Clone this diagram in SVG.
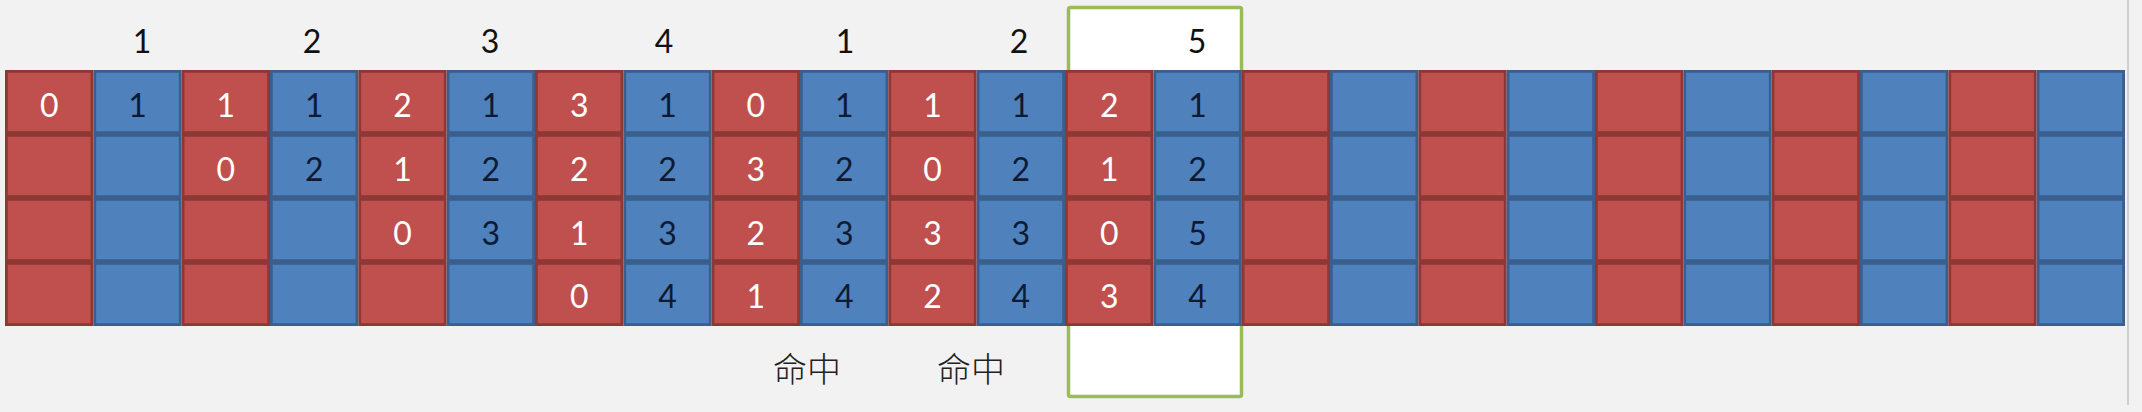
<svg xmlns="http://www.w3.org/2000/svg" xmlns:xlink="http://www.w3.org/1999/xlink" width="2142" height="412" viewBox="0 0 2142 412">
<style>
.r{fill:#C0504D;stroke:#8E3835;stroke-width:2.8}
.b{fill:#4F81BD;stroke:#3A5F8D;stroke-width:2.8}
.t{font-family:Lato,"Liberation Sans",sans-serif;font-size:32px;text-anchor:middle}
.w{fill:#ffffff}
.k{fill:#0d1a33}
.top{font-family:Lato,"Liberation Sans",sans-serif;font-size:32px;text-anchor:middle;fill:#111}
.cn{font-family:"Noto Sans CJK SC",sans-serif;font-size:34px;font-weight:300;text-anchor:middle;fill:#222}
</style>
<defs>
<g id="redcol">
<rect class="r" x="1.4" y="1.4" width="85.53" height="61.2"/>
<rect class="r" x="1.4" y="65.4" width="85.53" height="61.2"/>
<rect class="r" x="1.4" y="129.4" width="85.53" height="61.2"/>
<rect class="r" x="1.4" y="193.4" width="85.53" height="61.2"/>
</g>
<g id="bluecol">
<rect class="b" x="1.4" y="1.4" width="85.53" height="61.2"/>
<rect class="b" x="1.4" y="65.4" width="85.53" height="61.2"/>
<rect class="b" x="1.4" y="129.4" width="85.53" height="61.2"/>
<rect class="b" x="1.4" y="193.4" width="85.53" height="61.2"/>
</g>
</defs>
<rect width="2142" height="412" fill="#F2F2F2"/>
<line x1="2128" y1="0" x2="2128" y2="405" stroke="#cfcfcf" stroke-width="2"/>
<g id="window">
<rect x="1068.5" y="7.5" width="173" height="389" fill="#ffffff" stroke="#9BBB59" stroke-width="3.5" rx="2"/>
</g>
<g id="labels-top">
<text class="top" x="142" y="53">1</text>
<text class="top" x="312" y="53">2</text>
<text class="top" x="490" y="53">3</text>
<text class="top" x="664" y="53">4</text>
<text class="top" x="845" y="53">1</text>
<text class="top" x="1019" y="53">2</text>
<text class="top" x="1197" y="53">5</text>
</g>
<g id="col0" transform="translate(5,70)"><use xlink:href="#redcol"/><text class="t w" x="44.17" y="47">0</text></g>
<g id="col1" transform="translate(93.33,70)"><use xlink:href="#bluecol"/><text class="t k" x="44.17" y="47">1</text></g>
<g id="col2" transform="translate(181.67,70)"><use xlink:href="#redcol"/><text class="t w" x="44.17" y="47">1</text><text class="t w" x="44.17" y="111">0</text></g>
<g id="col3" transform="translate(270,70)"><use xlink:href="#bluecol"/><text class="t k" x="44.17" y="47">1</text><text class="t k" x="44.17" y="111">2</text></g>
<g id="col4" transform="translate(358.33,70)"><use xlink:href="#redcol"/><text class="t w" x="44.17" y="47">2</text><text class="t w" x="44.17" y="111">1</text><text class="t w" x="44.17" y="175">0</text></g>
<g id="col5" transform="translate(446.67,70)"><use xlink:href="#bluecol"/><text class="t k" x="44.17" y="47">1</text><text class="t k" x="44.17" y="111">2</text><text class="t k" x="44.17" y="175">3</text></g>
<g id="col6" transform="translate(535,70)"><use xlink:href="#redcol"/><text class="t w" x="44.17" y="47">3</text><text class="t w" x="44.17" y="111">2</text><text class="t w" x="44.17" y="175">1</text><text class="t w" x="44.17" y="238">0</text></g>
<g id="col7" transform="translate(623.33,70)"><use xlink:href="#bluecol"/><text class="t k" x="44.17" y="47">1</text><text class="t k" x="44.17" y="111">2</text><text class="t k" x="44.17" y="175">3</text><text class="t k" x="44.17" y="238">4</text></g>
<g id="col8" transform="translate(711.67,70)"><use xlink:href="#redcol"/><text class="t w" x="44.17" y="47">0</text><text class="t w" x="44.17" y="111">3</text><text class="t w" x="44.17" y="175">2</text><text class="t w" x="44.17" y="238">1</text></g>
<g id="col9" transform="translate(800,70)"><use xlink:href="#bluecol"/><text class="t k" x="44.17" y="47">1</text><text class="t k" x="44.17" y="111">2</text><text class="t k" x="44.17" y="175">3</text><text class="t k" x="44.17" y="238">4</text></g>
<g id="col10" transform="translate(888.33,70)"><use xlink:href="#redcol"/><text class="t w" x="44.17" y="47">1</text><text class="t w" x="44.17" y="111">0</text><text class="t w" x="44.17" y="175">3</text><text class="t w" x="44.17" y="238">2</text></g>
<g id="col11" transform="translate(976.67,70)"><use xlink:href="#bluecol"/><text class="t k" x="44.17" y="47">1</text><text class="t k" x="44.17" y="111">2</text><text class="t k" x="44.17" y="175">3</text><text class="t k" x="44.17" y="238">4</text></g>
<g id="col12" transform="translate(1065,70)"><use xlink:href="#redcol"/><text class="t w" x="44.17" y="47">2</text><text class="t w" x="44.17" y="111">1</text><text class="t w" x="44.17" y="175">0</text><text class="t w" x="44.17" y="238">3</text></g>
<g id="col13" transform="translate(1153.33,70)"><use xlink:href="#bluecol"/><text class="t k" x="44.17" y="47">1</text><text class="t k" x="44.17" y="111">2</text><text class="t k" x="44.17" y="175">5</text><text class="t k" x="44.17" y="238">4</text></g>
<g id="col14" transform="translate(1241.67,70)"><use xlink:href="#redcol"/></g>
<g id="col15" transform="translate(1330,70)"><use xlink:href="#bluecol"/></g>
<g id="col16" transform="translate(1418.33,70)"><use xlink:href="#redcol"/></g>
<g id="col17" transform="translate(1506.67,70)"><use xlink:href="#bluecol"/></g>
<g id="col18" transform="translate(1595,70)"><use xlink:href="#redcol"/></g>
<g id="col19" transform="translate(1683.33,70)"><use xlink:href="#bluecol"/></g>
<g id="col20" transform="translate(1771.67,70)"><use xlink:href="#redcol"/></g>
<g id="col21" transform="translate(1860,70)"><use xlink:href="#bluecol"/></g>
<g id="col22" transform="translate(1948.33,70)"><use xlink:href="#redcol"/></g>
<g id="col23" transform="translate(2036.67,70)"><use xlink:href="#bluecol"/></g>
<g id="connectors"></g>
<g id="labels-bottom">
<text class="cn" x="807" y="382">命中</text>
<text class="cn" x="971" y="382">命中</text>
</g>
</svg>
